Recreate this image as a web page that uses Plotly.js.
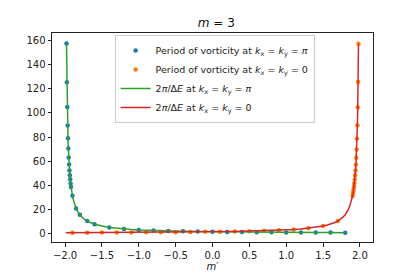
<!DOCTYPE html>
<html>
<head>
<meta charset="utf-8">
<script src="https://cdn.plot.ly/plotly-3.0.1.min.js"></script>
<style>html,body{margin:0;padding:0;background:#fff;}#chart{width:415px;height:277px;}</style>
</head>
<body>
<div id="chart"></div>
<script>
// Period of vorticity at kx=ky=pi (blue dots)
const bluePeriodX = [-1.98, -1.975, -1.97, -1.965, -1.96, -1.955, -1.95, -1.945, -1.94, -1.935, -1.93, -1.925, -1.92, -1.9, -1.85, -1.8, -1.7, -1.6, -1.4, -1.2, -1.0, -0.8, -0.6, -0.4, -0.2, 0.0, 0.2, 0.4, 0.6, 0.8, 1.0, 1.2, 1.4, 1.6, 1.8];
const bluePeriodY = [157.5, 125.5, 105.0, 89.5, 79.0, 70.5, 63.0, 57.2, 52.4, 48.3, 45.0, 41.6, 38.6, 31.5, 20.8, 15.7, 10.4, 7.8, 5.1, 3.9, 3.1, 2.6, 2.2, 1.95, 1.75, 1.57, 1.43, 1.31, 1.21, 1.12, 1.05, 0.98, 0.92, 0.87, 0.83];
// Period of vorticity at kx=ky=0 (orange dots)
const orangePeriodX = [-1.9, -1.7, -1.5, -1.3, -1.1, -0.9, -0.7, -0.5, -0.3, -0.1, 0.1, 0.3, 0.5, 0.7, 0.9, 1.1, 1.3, 1.5, 1.7, 1.9, 1.905, 1.91, 1.915, 1.92, 1.925, 1.93, 1.935, 1.94, 1.945, 1.95, 1.955, 1.96, 1.965, 1.97, 1.975, 1.98];
const orangePeriodY = [0.8, 0.85, 0.9, 0.95, 1.0, 1.08, 1.16, 1.26, 1.37, 1.5, 1.65, 1.85, 2.1, 2.4, 2.85, 3.5, 4.5, 6.3, 10.4, 31.3, 33.0, 34.9, 37.0, 39.3, 41.8, 44.8, 48.3, 52.4, 57.1, 62.8, 69.8, 78.6, 89.8, 104.8, 125.6, 157.3];
// 2pi/dE at kx=ky=pi (green line)
const greenLineX = [-1.98, -1.975, -1.97, -1.965, -1.96, -1.955, -1.95, -1.945, -1.94, -1.93, -1.92, -1.91, -1.9, -1.88, -1.86, -1.84, -1.82, -1.8, -1.77, -1.74, -1.7, -1.65, -1.6, -1.55, -1.5, -1.45, -1.4, -1.3, -1.2, -1.1, -1.0, -0.9, -0.8, -0.6, -0.4, -0.2, 0.0, 0.2, 0.4, 0.6, 0.8, 1.0, 1.2, 1.4, 1.6, 1.8];
const greenLineY = [157.0, 125.6, 104.7, 89.8, 78.5, 69.8, 62.8, 57.1, 52.4, 44.9, 39.3, 34.9, 31.4, 26.2, 22.4, 19.6, 17.5, 15.7, 13.7, 12.1, 10.5, 9.0, 7.85, 7.0, 6.3, 5.7, 5.2, 4.5, 3.9, 3.5, 3.1, 2.85, 2.6, 2.25, 1.95, 1.75, 1.57, 1.43, 1.31, 1.21, 1.12, 1.05, 0.98, 0.92, 0.87, 0.83];
// 2pi/dE at kx=ky=0 (red line)
const redLineX = [-1.99, -1.8, -1.6, -1.4, -1.2, -1.0, -0.8, -0.6, -0.4, -0.2, 0.0, 0.2, 0.4, 0.6, 0.8, 1.0, 1.1, 1.2, 1.3, 1.4, 1.45, 1.5, 1.55, 1.6, 1.65, 1.7, 1.74, 1.77, 1.8, 1.82, 1.84, 1.86, 1.88, 1.9, 1.91, 1.92, 1.93, 1.94, 1.945, 1.95, 1.955, 1.96, 1.965, 1.97, 1.975, 1.98];
const redLineY = [0.79, 0.83, 0.87, 0.92, 0.98, 1.05, 1.12, 1.21, 1.31, 1.43, 1.57, 1.75, 1.95, 2.25, 2.6, 3.1, 3.5, 3.9, 4.5, 5.2, 5.7, 6.3, 7.0, 7.85, 9.0, 10.5, 12.1, 13.7, 15.7, 17.5, 19.6, 22.4, 26.2, 31.4, 34.9, 39.3, 44.9, 52.4, 57.1, 62.8, 69.8, 78.5, 89.8, 104.7, 125.6, 157.0];

const xTickVals = [-2.0, -1.5, -1.0, -0.5, 0.0, 0.5, 1.0, 1.5, 2.0];
const xTickText = ['−2.0', '−1.5', '−1.0', '−0.5', '0.0', '0.5', '1.0', '1.5', '2.0'];
const yTickVals = [0, 20, 40, 60, 80, 100, 120, 140, 160];

const FONT = 'DejaVu Sans, sans-serif';
const traces = [
  {x: bluePeriodX, y: bluePeriodY, type: 'scatter', mode: 'markers',
   name: 'Period of vorticity at <i>k</i><sub>x</sub> = <i>k</i><sub>y</sub> = <i>π</i>',
   marker: {color: '#1f77b4', size: 4.5}},
  {x: orangePeriodX, y: orangePeriodY, type: 'scatter', mode: 'markers',
   name: 'Period of vorticity at <i>k</i><sub>x</sub> = <i>k</i><sub>y</sub> = 0',
   marker: {color: '#ff7f0e', size: 4.5}},
  {x: greenLineX, y: greenLineY, type: 'scatter', mode: 'lines',
   name: '2<i>π</i>/Δ<i>E</i> at <i>k</i><sub>x</sub> = <i>k</i><sub>y</sub> = <i>π</i>',
   line: {color: '#2ca02c', width: 1.5}},
  {x: redLineX, y: redLineY, type: 'scatter', mode: 'lines',
   name: '2<i>π</i>/Δ<i>E</i> at <i>k</i><sub>x</sub> = <i>k</i><sub>y</sub> = 0',
   line: {color: '#d62728', width: 1.5}}
];

const axisCommon = {
  showgrid: false, zeroline: false, showline: true, mirror: true,
  linecolor: '#222', linewidth: 1, ticks: 'outside', ticklen: 3.5, tickwidth: 1,
  tickcolor: '#222', tickfont: {family: FONT, size: 10, color: '#222'}
};

const layout = {
  width: 415, height: 277,
  margin: {l: 52, r: 42, t: 33, b: 35},
  paper_bgcolor: '#fff', plot_bgcolor: '#fff',
  font: {family: FONT, color: '#222'},
  title: {text: '<i>m</i> = 3', font: {family: FONT, size: 12, color: '#111'},
          x: 0.512, xanchor: 'center', xref: 'paper', y: 1 - 23/277, yanchor: 'middle', yref: 'container'},
  xaxis: Object.assign({}, axisCommon, {
    range: [-2.177, 2.177], tickvals: xTickVals, ticktext: xTickText,
    title: {text: '<i>m′</i>', font: {family: FONT, size: 10, color: '#222'}, standoff: 3}
  }),
  yaxis: Object.assign({}, axisCommon, {
    range: [-6.9, 166.2], tickvals: yTickVals
  }),
  showlegend: true,
  legend: {
    x: 0.195, xanchor: 'left', y: 0.99, yanchor: 'top',
    bgcolor: 'rgba(255,255,255,0.85)', bordercolor: '#ccc', borderwidth: 1,
    font: {family: FONT, size: 9.5, color: '#222'}, tracegroupgap: 0, itemwidth: 30
  }
};

Plotly.newPlot('chart', traces, layout, {displayModeBar: false, staticPlot: true});
</script>
</body>
</html>
